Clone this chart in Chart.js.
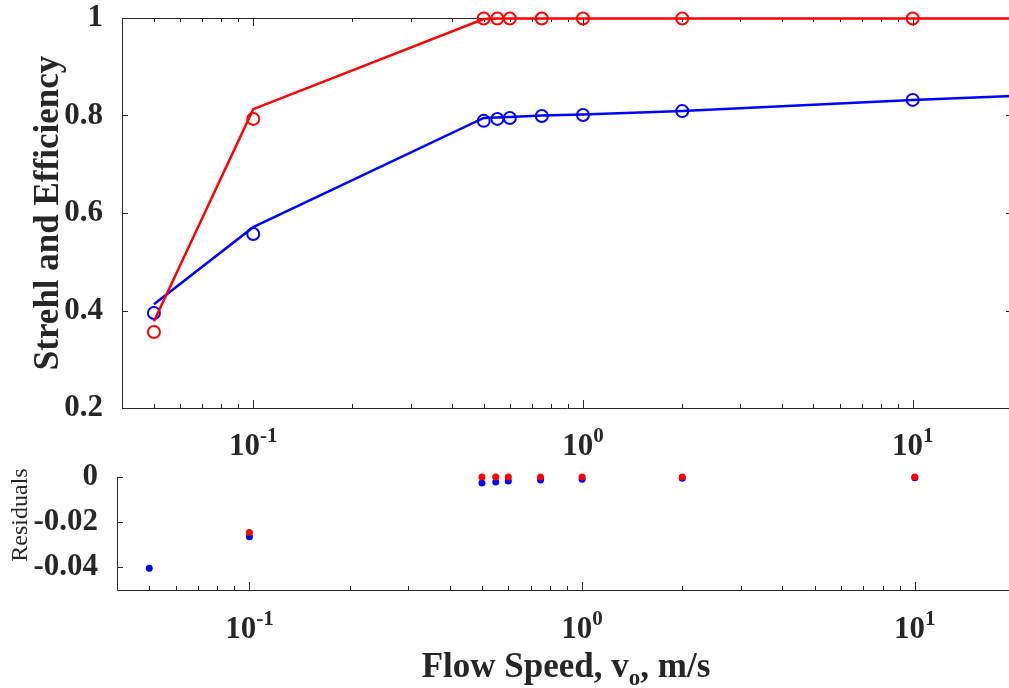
<!DOCTYPE html>
<html>
<head>
<meta charset="utf-8">
<script src="https://cdn.jsdelivr.net/npm/chart.js@4.4.1/dist/chart.umd.min.js"></script>
<style>
  html, body { margin: 0; padding: 0; background: #fff; overflow: hidden; width: 1009px; height: 688px; }
  #topChart { position: absolute; left: 0; top: 0; }
  #botChart { position: absolute; left: 0; top: 460px; }
</style>
</head>
<body>
<canvas id="topChart" width="1020" height="460"></canvas>
<canvas id="botChart" width="1020" height="228"></canvas>
<script>
// measured points
const flowSpeed = [0.05, 0.1, 0.5, 0.55, 0.6, 0.75, 1, 2, 10];
const strehl = [0.356, 0.793, 0.999, 0.999, 0.999, 0.999, 0.999, 0.999, 0.999];
const efficiency = [0.395, 0.557, 0.789, 0.793, 0.795, 0.799, 0.801, 0.809, 0.832];

// fitted curves
const fitSpeed = [0.05, 0.1, 0.5, 0.55, 0.6, 0.75, 1, 2, 10, 20];
const strehlFit = [0.378, 0.813, 0.998, 0.999, 0.999, 0.999, 0.999, 0.999, 0.999, 0.999];
const efficiencyFit = [0.413, 0.571, 0.795, 0.796, 0.797, 0.800, 0.802, 0.809, 0.832, 0.840];

// residuals
const strehlResid = [null, -0.0246, 0, 0, 0, 0, 0, 0, 0];
const efficiencyResid = [-0.0404, -0.0264, -0.0026, -0.0022, -0.0018, -0.0013, -0.001, -0.0005, -0.0003];

// axes
const topYTicks = [0.2, 0.4, 0.6, 0.8, 1];
const botYTicks = [-0.04, -0.02, 0];
const majorX = [0.1, 1, 10];
const majorXExp = ['-1', '0', '1'];
const minorX = [0.05, 0.06, 0.07, 0.08, 0.09, 0.2, 0.3, 0.4, 0.5, 0.6, 0.7, 0.8, 0.9,
                2, 3, 4, 5, 6, 7, 8, 9, 20];

const serif = '"Liberation Serif", "Times New Roman", serif';
const axisColor = '#262626';

const pairs = (xs, ys) => xs.map((x, i) => ({ x: x, y: ys[i] })).filter(p => p.y !== null);

// MATLAB style axes: inward ticks, optional box, 10^n labels
const axesDeco = {
  id: 'axesDeco',
  beforeDatasetsDraw(chart, args, opts) {
    const { ctx, chartArea: a, scales: { x, y } } = chart;
    ctx.save();
    ctx.strokeStyle = axisColor;
    ctx.lineWidth = 1;
    ctx.beginPath();
    ctx.moveTo(a.left + 0.5, a.top);
    ctx.lineTo(a.left + 0.5, a.bottom + 0.5);
    ctx.lineTo(a.right, a.bottom + 0.5);
    if (opts.box) {
      ctx.lineTo(a.right, a.top + 0.5);
      ctx.lineTo(a.left, a.top + 0.5);
    }
    const sides = opts.box ? [[a.bottom, -1], [a.top, 1]] : [[a.bottom, -1]];
    sides.forEach(([py, dir]) => {
      majorX.forEach(v => {
        const px = Math.round(x.getPixelForValue(v)) + 0.5;
        ctx.moveTo(px, py); ctx.lineTo(px, py + dir * 8);
      });
      minorX.forEach(v => {
        const px = Math.round(x.getPixelForValue(v)) + 0.5;
        ctx.moveTo(px, py); ctx.lineTo(px, py + dir * 4);
      });
    });
    y.ticks.forEach(t => {
      const py = Math.round(y.getPixelForValue(t.value)) + 0.5;
      ctx.moveTo(a.left, py); ctx.lineTo(a.left + 6, py);
      if (opts.box) { ctx.moveTo(a.right, py); ctx.lineTo(a.right - 6, py); }
    });
    ctx.stroke();

    // x tick labels 10^n
    ctx.fillStyle = axisColor;
    ctx.textBaseline = 'alphabetic';
    majorX.forEach((v, i) => {
      const px = x.getPixelForValue(v);
      ctx.font = 'bold 31px ' + serif;
      const wBase = ctx.measureText('10').width;
      ctx.font = 'bold 21px ' + serif;
      const wExp = ctx.measureText(majorXExp[i]).width;
      const left = px - (wBase + wExp) / 2;
      const base = a.bottom + opts.labelOffset;
      ctx.font = 'bold 31px ' + serif;
      ctx.fillText('10', left, base);
      ctx.font = 'bold 21px ' + serif;
      ctx.fillText(majorXExp[i], left + wBase, base - 13);
    });

    if (opts.sideTitle) {
      ctx.save();
      ctx.font = '24px ' + serif;
      ctx.textAlign = 'center';
      ctx.textBaseline = 'alphabetic';
      ctx.translate(27, opts.sideTitleY);
      ctx.rotate(-Math.PI / 2);
      ctx.fillText(opts.sideTitle, 0, 0);
      ctx.restore();
    }

    if (opts.xTitle) {
      const parts = [['Flow Speed, v', 35, 0], ['o', 23, 8], [', m/s', 35, 0]];
      let total = 0;
      parts.forEach(p => { ctx.font = 'bold ' + p[1] + 'px ' + serif; total += ctx.measureText(p[0]).width; });
      let cx = (a.left + a.right) / 2 - total / 2;
      parts.forEach(p => {
        ctx.font = 'bold ' + p[1] + 'px ' + serif;
        ctx.fillText(p[0], cx, opts.xTitleY + p[2]);
        cx += ctx.measureText(p[0]).width;
      });
    }
    ctx.restore();
  }
};

function xScale(height) {
  return {
    type: 'logarithmic',
    min: 0.04,
    max: 20,
    grid: { display: false },
    border: { display: false },
    ticks: { display: false },
    afterFit: s => { s.height = height; s.paddingLeft = 0; s.paddingRight = 0; }
  };
}

function yScale(width, min, max, ticks, fmt, title) {
  return {
    type: 'linear',
    min: min,
    max: max,
    grid: { display: false },
    border: { display: false },
    afterBuildTicks: s => { s.ticks = ticks.map(v => ({ value: v })); },
    afterFit: s => { s.width = width; s.paddingTop = 0; s.paddingBottom = 0; },
    ticks: {
      color: axisColor,
      padding: 11,
      font: { family: serif, size: 31, weight: 'bold', lineHeight: 1 },
      callback: fmt
    },
    title: title
  };
}

new Chart(document.getElementById('topChart'), {
  type: 'scatter',
  data: {
    datasets: [
      {
        label: 'Strehl',
        data: pairs(flowSpeed, strehl),
        showLine: false,
        pointStyle: 'circle',
        pointRadius: 6,
        pointBorderWidth: 2,
        borderColor: '#ff0000',
        backgroundColor: 'rgba(0,0,0,0)',
        clip: false
      },
      {
        label: 'Strehl fit',
        data: pairs(fitSpeed, strehlFit),
        showLine: true,
        pointRadius: 0,
        borderWidth: 2.5,
        borderColor: '#ff0000',
        clip: false
      },
      {
        label: 'Efficiency',
        data: pairs(flowSpeed, efficiency),
        showLine: false,
        pointStyle: 'circle',
        pointRadius: 6,
        pointBorderWidth: 2,
        borderColor: '#0000ff',
        backgroundColor: 'rgba(0,0,0,0)',
        clip: false
      },
      {
        label: 'Efficiency fit',
        data: pairs(fitSpeed, efficiencyFit),
        showLine: true,
        pointRadius: 0,
        borderWidth: 2.5,
        borderColor: '#0000ff',
        clip: false
      }
    ]
  },
  options: {
    responsive: false,
    animation: false,
    layout: { padding: { top: 18, right: 7, left: 0, bottom: 0 } },
    plugins: {
      legend: { display: false },
      tooltip: { enabled: false },
      axesDeco: { box: true, labelOffset: 47 }
    },
    scales: {
      x: xScale(52),
      y: yScale(122, 0.2, 1, topYTicks, v => String(v), {
        display: true,
        text: 'Strehl and Efficiency',
        color: axisColor,
        font: { family: serif, size: 35, weight: 'bold' },
        padding: { top: 28, bottom: 0 }
      })
    }
  },
  plugins: [axesDeco]
});

new Chart(document.getElementById('botChart'), {
  type: 'scatter',
  data: {
    datasets: [
      {
        label: 'Strehl residual',
        data: pairs(flowSpeed, strehlResid),
        pointStyle: 'circle',
        pointRadius: 3.5,
        pointBorderWidth: 0,
        backgroundColor: '#ff0000',
        borderColor: '#ff0000',
        clip: false
      },
      {
        label: 'Efficiency residual',
        data: pairs(flowSpeed, efficiencyResid),
        pointStyle: 'circle',
        pointRadius: 3.5,
        pointBorderWidth: 0,
        backgroundColor: '#0000ff',
        borderColor: '#0000ff',
        clip: false
      }
    ]
  },
  options: {
    responsive: false,
    animation: false,
    layout: { padding: { top: 17, right: 5, left: 0, bottom: 0 } },
    plugins: {
      legend: { display: false },
      tooltip: { enabled: false },
      axesDeco: { box: false, labelOffset: 48, sideTitle: 'Residuals', sideTitleY: 55, xTitle: true, xTitleY: 217 }
    },
    scales: {
      x: xScale(98),
      y: yScale(117, -0.05, 0, botYTicks, v => (v === 0 ? '0' : v.toFixed(2)), { display: false })
    }
  },
  plugins: [axesDeco]
});
</script>
</body>
</html>
